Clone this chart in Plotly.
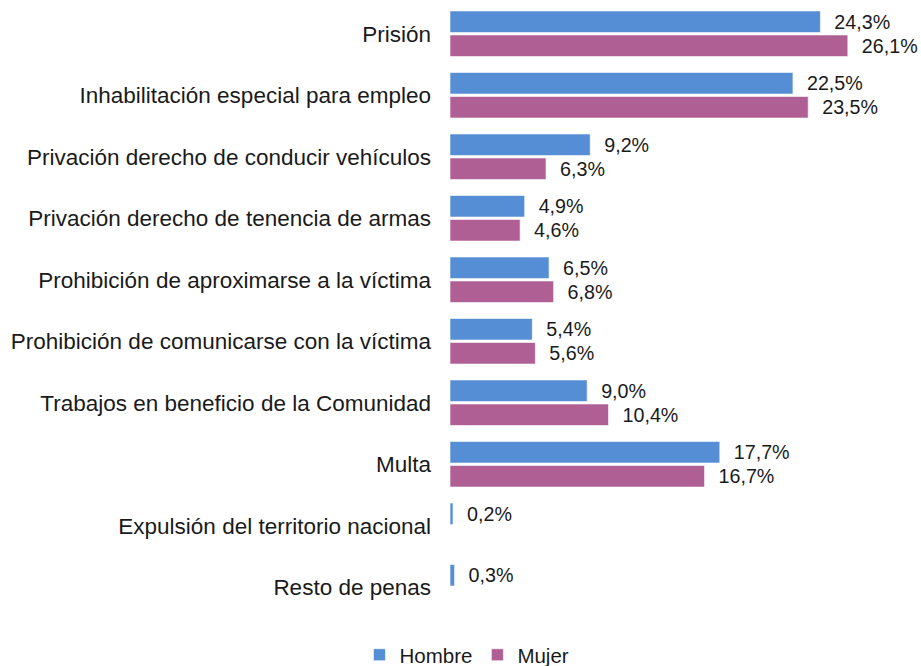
import plotly.graph_objects as go

# Penas impuestas por sexo (%)
categorias = [
    "Prisión",
    "Inhabilitación especial para empleo",
    "Privación derecho de conducir vehículos",
    "Privación derecho de tenencia de armas",
    "Prohibición de aproximarse a la víctima",
    "Prohibición de comunicarse con la víctima",
    "Trabajos en beneficio de la Comunidad",
    "Multa",
    "Expulsión del territorio nacional",
    "Resto de penas",
]
hombre = [24.3, 22.5, 9.2, 4.9, 6.5, 5.4, 9.0, 17.7, 0.2, 0.3]
mujer = [26.1, 23.5, 6.3, 4.6, 6.8, 5.6, 10.4, 16.7, None, None]

fuente = "Liberation Sans, Arial, sans-serif"

fig = go.Figure()
for nombre, valores, color in [("Hombre", hombre, "#558ed5"), ("Mujer", mujer, "#b05f94")]:
    fig.add_trace(go.Bar(
        y=categorias,
        x=valores,
        name=nombre,
        orientation="h",
        marker=dict(color=color, line=dict(color="rgba(255,255,255,0.6)", width=1)),
        texttemplate="\u00a0\u00a0%{x:.1f}%",
        textposition="outside",
        textfont=dict(size=21, color="#1a1a1a", family=fuente),
        cliponaxis=False,
    ))

fig.update_layout(
    width=921,
    height=666,
    barmode="group",
    bargap=0.22,
    bargroupgap=0.1,
    separators=",.",
    plot_bgcolor="white",
    paper_bgcolor="white",
    font=dict(family=fuente, size=21, color="#1a1a1a"),
    margin=dict(l=450, r=0, t=3, b=48, autoexpand=False),
    showlegend=True,
    legend=dict(
        orientation="h",
        x=0.036,
        xanchor="center",
        y=-0.06,
        yanchor="middle",
        font=dict(size=20.5),
        traceorder="normal",
    ),
)
fig.update_xaxes(range=[0, 30.9], visible=False, showgrid=False, zeroline=False)
fig.update_yaxes(
    autorange="reversed",
    automargin=False,
    showgrid=False,
    showline=False,
    ticks="",
    ticklabelstandoff=18,
    tickfont=dict(size=22.5, family=fuente, color="#1a1a1a"),
)

fig.write_html(
    "out.html",
    config={"displayModeBar": False},
    post_script="document.body.style.margin='0';",
)
